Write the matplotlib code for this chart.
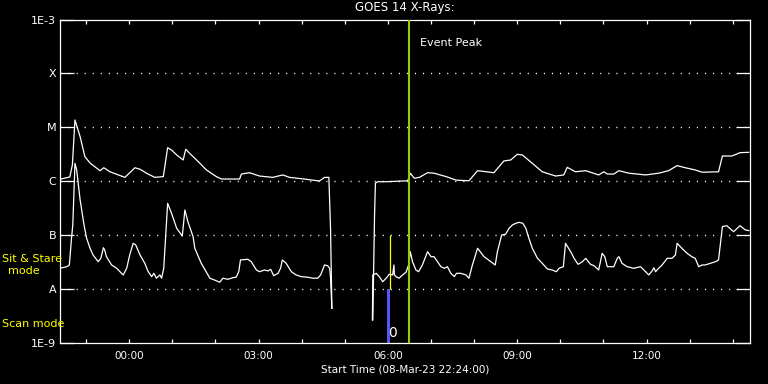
import numpy as np
import matplotlib
matplotlib.use("Agg")
import matplotlib.pyplot as plt
from matplotlib.ticker import FixedLocator, NullLocator

# ---- data (time in hours relative to 00:00 09-Mar-23, flux in W/m^2) ----
long_t = [-1.61, -1.38, -1.32, -1.26, -1.14, -1.03, -0.91, -0.68, -0.59, -0.45, -0.10,
          0.13, 0.25, 0.40, 0.59, 0.79, 0.89, 0.98, 1.10, 1.25, 1.31, 1.40, 1.60, 1.79,
          2.02, 2.14, 2.56, 2.60, 2.79, 3.02, 3.33, 3.56, 3.72, 4.10, 4.41, 4.53, 4.63,
          4.67, 4.70, 5.00,
          5.65, 5.69, 5.71, 5.76, 5.96, 6.46, 6.52, 6.61, 6.73, 6.92, 7.07, 7.35, 7.58,
          7.88, 8.08, 8.46, 8.69, 8.85, 9.00, 9.12, 9.35, 9.58, 9.89, 10.08, 10.16, 10.35,
          10.59, 10.89, 11.01, 11.09, 11.24, 11.36, 11.59, 11.98, 12.28, 12.51, 12.71,
          12.90, 13.13, 13.29, 13.67, 13.76, 13.98, 14.17, 14.37]
long_f = [1.09e-6, 1.2e-6, 2.0e-6, 1.37e-5, 6.7e-6, 2.86e-6, 2.18e-6, 1.57e-6, 1.78e-6, 1.5e-6, 1.18e-6,
          1.78e-6, 1.67e-6, 1.41e-6, 1.18e-6, 1.22e-6, 4.19e-6, 3.8e-6, 3.07e-6, 2.48e-6, 3.92e-6, 3.3e-6, 2.31e-6, 1.62e-6,
          1.22e-6, 1.1e-6, 1.1e-6, 1.36e-6, 1.44e-6, 1.25e-6, 1.18e-6, 1.31e-6, 1.18e-6, 1.09e-6, 1.01e-6, 1.18e-6, 1.18e-6,
          1.25e-7, 4.4e-9, np.nan,
          2.67e-9, 2.37e-7, 9.2e-7, 9.8e-7, 9.8e-7, 1.02e-6, 1.41e-6, 1.14e-6, 1.18e-6, 1.44e-6, 1.41e-6, 1.22e-6, 1.05e-6,
          1.02e-6, 1.57e-6, 1.44e-6, 2.38e-6, 2.48e-6, 3.16e-6, 3.07e-6, 2.15e-6, 1.5e-6, 1.25e-6, 1.31e-6, 1.81e-6, 1.5e-6,
          1.57e-6, 1.31e-6, 1.5e-6, 1.36e-6, 1.36e-6, 1.57e-6, 1.41e-6, 1.31e-6, 1.41e-6, 1.57e-6, 1.95e-6,
          1.78e-6, 1.62e-6, 1.47e-6, 1.5e-6, 2.94e-6, 2.94e-6, 3.39e-6, 3.44e-6]

short_t = [-1.61, -1.45, -1.39, -1.34, -1.31, -1.26, -1.22, -1.14, -1.05, -0.99, -0.91, -0.84,
           -0.72, -0.66, -0.60, -0.57, -0.53, -0.41, -0.29, -0.18, -0.14, -0.06, 0.01, 0.09,
           0.15, 0.25, 0.36, 0.44, 0.52, 0.57, 0.63, 0.71, 0.75, 0.80, 0.86, 0.89, 0.98,
           1.10, 1.23, 1.29, 1.36, 1.48, 1.52, 1.67, 1.87, 1.98, 2.10, 2.17, 2.29, 2.41,
           2.48, 2.54, 2.58, 2.75, 2.83, 2.95, 3.02, 3.14, 3.22, 3.28, 3.35, 3.45, 3.51,
           3.55, 3.64, 3.76, 3.87, 3.99, 4.14, 4.26, 4.37, 4.44, 4.53, 4.60, 4.65, 4.67,
           4.70, 5.00,
           5.64, 5.65, 5.73, 5.80, 5.88, 5.96, 6.03, 6.11, 6.14, 6.15, 6.19, 6.26, 6.34,
           6.42, 6.48, 6.52, 6.57, 6.65, 6.71, 6.80, 6.92, 7.00, 7.07, 7.15, 7.23, 7.31,
           7.38, 7.46, 7.54, 7.59, 7.69, 7.81, 7.88, 7.96, 8.08, 8.23, 8.39, 8.49, 8.54,
           8.64, 8.73, 8.81, 8.89, 8.97, 9.04, 9.13, 9.20, 9.27, 9.35, 9.47, 9.58, 9.70,
           9.81, 9.91, 9.97, 10.07, 10.12, 10.24, 10.32, 10.41, 10.51, 10.59, 10.70, 10.78,
           10.89, 10.97, 11.03, 11.09, 11.24, 11.32, 11.36, 11.43, 11.55, 11.70, 11.86,
           11.94, 12.05, 12.13, 12.17, 12.21, 12.28, 12.36, 12.48, 12.59, 12.67, 12.71,
           12.82, 12.94, 13.05, 13.13, 13.21, 13.29, 13.36, 13.48, 13.60, 13.67, 13.71,
           13.76, 13.86, 14.02, 14.17, 14.29, 14.37]
short_f = [2.43e-8, 2.6e-8, 2.8e-8, 8.78e-8, 1.55e-7, 2.15e-6, 1.62e-6, 4.49e-7, 1.55e-7, 8.78e-8, 5.71e-8, 4.29e-8,
           3.22e-8, 3.72e-8, 5.86e-8, 5.31e-8, 3.99e-8, 2.8e-8, 2.43e-8, 1.96e-8, 1.83e-8, 2.43e-8, 4.29e-8, 7.07e-8,
           6.58e-8, 4.29e-8, 3.01e-8, 2.1e-8, 1.7e-8, 1.96e-8, 1.59e-8, 1.83e-8, 1.59e-8, 2.43e-8, 1.55e-7, 3.9e-7, 2.55e-7,
           1.34e-7, 9.66e-8, 2.93e-7, 1.78e-7, 9.4e-8, 5.71e-8, 3.01e-8, 1.59e-8, 1.47e-8, 1.34e-8, 1.59e-8, 1.52e-8, 1.63e-8,
           1.66e-8, 2.1e-8, 3.47e-8, 3.57e-8, 3.22e-8, 2.26e-8, 2.1e-8, 2.26e-8, 2.17e-8, 2.33e-8, 1.77e-8, 1.96e-8, 2.43e-8,
           3.47e-8, 3.01e-8, 2.1e-8, 1.83e-8, 1.7e-8, 1.66e-8, 1.59e-8, 1.59e-8, 1.83e-8, 2.8e-8, 2.72e-8, 2.43e-8, 1.59e-8,
           4.4e-9, np.nan,
           2.67e-9, 1.83e-8, 1.96e-8, 1.7e-8, 1.37e-8, 1.59e-8, 1.88e-8, 1.83e-8, 2.8e-8, 1.83e-8, 1.7e-8, 1.59e-8, 1.83e-8,
           2.05e-8, 2.8e-8, 4.94e-8, 3.22e-8, 2.26e-8, 2.1e-8, 2.8e-8, 4.94e-8, 3.99e-8, 3.99e-8, 3.22e-8, 2.6e-8, 2.43e-8,
           2.6e-8, 1.96e-8, 1.7e-8, 1.96e-8, 1.96e-8, 1.83e-8, 1.59e-8, 2.8e-8, 5.71e-8, 3.99e-8, 3.22e-8, 2.8e-8, 4.94e-8,
           1.01e-7, 1.04e-7, 1.34e-7, 1.55e-7, 1.66e-7, 1.73e-7, 1.66e-7, 1.34e-7, 8.78e-8, 5.71e-8, 3.72e-8, 3.01e-8, 2.36e-8,
           2.26e-8, 2.1e-8, 2.43e-8, 2.6e-8, 7.07e-8, 4.94e-8, 3.72e-8, 2.88e-8, 3.22e-8, 3.72e-8, 2.88e-8, 2.72e-8,
           2.26e-8, 4.61e-8, 3.99e-8, 2.6e-8, 2.6e-8, 3.72e-8, 3.99e-8, 3.01e-8, 2.6e-8, 2.43e-8, 2.6e-8,
           2.26e-8, 1.83e-8, 2.17e-8, 2.49e-8, 2.1e-8, 2.43e-8, 2.8e-8, 3.72e-8, 3.72e-8, 4.29e-8, 7.07e-8,
           5.71e-8, 4.61e-8, 3.99e-8, 3.72e-8, 2.6e-8, 2.8e-8, 2.8e-8, 3.01e-8, 3.22e-8, 3.47e-8, 6.58e-8,
           1.44e-7, 1.5e-7, 1.16e-7, 1.5e-7, 1.25e-7, 1.22e-7]

class_levels = [1e-9, 1e-8, 1e-7, 1e-6, 1e-5, 1e-4, 1e-3]
class_labels = ["1E-9", "A", "B", "C", "M", "X", "1E-3"]
hour_ticks = [0, 3, 6, 9, 12]
hour_labels = ["00:00", "03:00", "06:00", "09:00", "12:00"]
t_start, t_end = -1.6, 14.4
event_peak = 6.49
sit_stare_t = 6.04
scan_t0, scan_t1 = 5.985, 6.056

# ---- figure ----
fig = plt.figure(figsize=(7.68, 3.84), dpi=100, facecolor="black")
ax = fig.add_axes([60.3 / 768, 1 - 343 / 384, (750 - 60.3) / 768, (343 - 19.5) / 384])
ax.set_facecolor("black")
ax.set_yscale("log")
ax.set_xlim(t_start, t_end)
ax.set_ylim(1e-9, 1e-3)

for lev in class_levels[1:-1]:
    ax.axhline(lev, color="white", lw=1.0, dashes=(0.8, 5.0), zorder=1)

ax.axvspan(scan_t0, scan_t1, ymin=0, ymax=1 / 6, color="#5555ff", lw=0, zorder=2)
ax.vlines(sit_stare_t, 1e-8, 1e-7, color="#ffff00", lw=0.9, zorder=2)

ax.plot(long_t, long_f, color="white", lw=0.9, zorder=3)
ax.plot(short_t, short_f, color="white", lw=0.9, zorder=3)

ax.axvline(event_peak, color="#99cc00", lw=1.5, zorder=4)
ax.text(6.74, 3.7e-4, "Event Peak", color="white", fontsize=8, ha="left", va="center")
ax.text(6.10, 1.55e-9, "0", color="white", fontsize=10, ha="center", va="center")

for s in ax.spines.values():
    s.set_color("white")
    s.set_linewidth(0.9)

ax.set_xticks(hour_ticks, hour_labels)
ax.xaxis.set_minor_locator(FixedLocator([h for h in range(-1, 15) if h not in hour_ticks]))
ax.tick_params(axis="x", which="both", direction="in", length=3, width=0.9, colors="white",
               top=True, bottom=True, labelsize=7.5, pad=5.5)
ax.set_yticks(class_levels, class_labels)
ax.yaxis.set_minor_locator(NullLocator())
ax.tick_params(axis="y", which="major", direction="in", length=10, width=0.9, colors="white",
               left=True, right=True, labelsize=8, pad=3)
ax.tick_params(axis="y", which="minor", left=False, right=False)

ax.set_xlabel("Start Time (08-Mar-23 22:24:00)", color="white", fontsize=7.5, labelpad=3)
ax.set_title("GOES 14 X-Rays:", color="white", fontsize=8.5, pad=6)

fig.text(2 / 768, 1 - 259 / 384, "Sit & Stare", color="#ffff00", fontsize=8, ha="left", va="center")
fig.text(24 / 768, 1 - 271 / 384, "mode", color="#ffff00", fontsize=8, ha="center", va="center")
fig.text(2 / 768, 1 - 324 / 384, "Scan mode", color="#ffff00", fontsize=8, ha="left", va="center")

fig.savefig("out.png", dpi=100, facecolor="black")
